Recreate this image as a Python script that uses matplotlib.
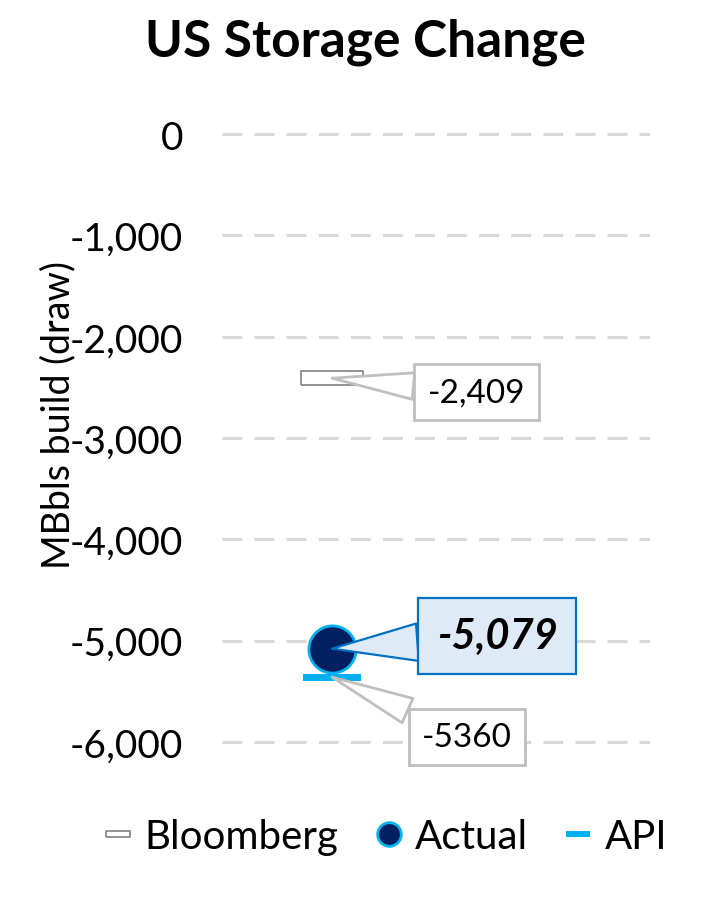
import numpy as np
import matplotlib.pyplot as plt
from matplotlib.lines import Line2D

# data
category = [0]
bloomberg = [-2409]
actual = [-5079]
api = [-5360]
yticks = [0, -1000, -2000, -3000, -4000, -5000, -6000]

plt.rcParams['font.family'] = ['Lato', 'DejaVu Sans']

fig = plt.figure(figsize=(7.05, 9.12), dpi=100)
ax = fig.add_axes([0.315, 0.152, 0.607, 0.722])

# rectangle markers (width = markersize)
rect_bbg = [(-1, -0.21), (1, -0.21), (1, 0.21), (-1, 0.21), (-1, -0.21)]
rect_api = [(-1, -0.12), (1, -0.12), (1, 0.12), (-1, 0.12), (-1, -0.12)]
rect_leg = [(-1, -0.25), (1, -0.25), (1, 0.25), (-1, 0.25), (-1, -0.25)]

ax.plot(category, bloomberg, ls='none', marker=rect_bbg, ms=45, mfc='white',
        mec='#808080', mew=1.2, zorder=3)
ax.plot(category, api, ls='none', marker=rect_api, ms=42, mfc='#00B0F0',
        mec='#00B0F0', mew=0, zorder=3)
ax.plot(category, actual, ls='none', marker='o', ms=34, mfc='#002060',
        mec='#00B0F0', mew=2, zorder=4)

for t in yticks:
    ax.axhline(t, color='#D9D9D9', lw=2.2, dashes=(6.5, 4), zorder=1)

ax.set_xlim(-0.257, 0.743)
ax.set_ylim(-6300, 200)
ax.set_xticks([])
ax.set_yticks(yticks)
ax.set_yticklabels(['{:,.0f}'.format(t) for t in yticks], fontsize=28)
ax.tick_params(axis='y', length=0, pad=28)
for s in ax.spines.values():
    s.set_visible(False)

ax.set_ylabel('MBbls build (draw)', fontsize=27)
ax.yaxis.set_label_coords(-0.34, 0.544)

# callouts
ax.annotate('{:,}'.format(bloomberg[0]), xy=(category[0], bloomberg[0]),
            xytext=(104, -10), textcoords='offset points', ha='center', va='center',
            fontsize=24,
            bbox=dict(boxstyle='square,pad=0.4', fc='white', ec='#BFBFBF', lw=2),
            arrowprops=dict(arrowstyle='wedge,tail_width=0.8', fc='white', ec='#BFBFBF',
                            lw=2, shrinkA=0, shrinkB=0), zorder=5)

ax.annotate('{:,}'.format(actual[0]), xy=(category[0], actual[0]),
            xytext=(119, 9), textcoords='offset points', ha='center', va='center',
            fontsize=30, fontweight='bold', fontstyle='italic',
            bbox=dict(boxstyle='square,pad=0.45', fc='#DEEBF7', ec='#0070C0', lw=1.6),
            arrowprops=dict(arrowstyle='wedge,tail_width=0.9', fc='#DEEBF7', ec='#0070C0',
                            lw=1.6, shrinkA=0, shrinkB=0), zorder=6)

ax.annotate(str(api[0]), xy=(category[0], api[0]),
            xytext=(97, -43), textcoords='offset points', ha='center', va='center',
            fontsize=24,
            bbox=dict(boxstyle='square,pad=0.4', fc='white', ec='#BFBFBF', lw=2),
            arrowprops=dict(arrowstyle='wedge,tail_width=0.8', fc='white', ec='#BFBFBF',
                            lw=2, shrinkA=0, shrinkB=0), zorder=5)

fig.text(0.519, 0.9375, 'US Storage Change', ha='center', va='baseline',
         fontsize=37, fontweight='bold')

handles = [
    Line2D([], [], ls='none', marker=rect_leg, ms=17, mfc='white', mec='#808080', mew=1.2),
    Line2D([], [], ls='none', marker='o', ms=17, mfc='#002060', mec='#00B0F0', mew=2),
    Line2D([], [], ls='none', marker=rect_leg, ms=17, mfc='#00B0F0', mec='#00B0F0', mew=0),
]
fig.legend(handles, ['Bloomberg', 'Actual', 'API'], loc='center',
           bbox_to_anchor=(0.547, 0.082), ncol=3, frameon=False, fontsize=29,
           handlelength=0.7, handletextpad=0.3, columnspacing=0.9)

fig.savefig('out.png', dpi=100)
